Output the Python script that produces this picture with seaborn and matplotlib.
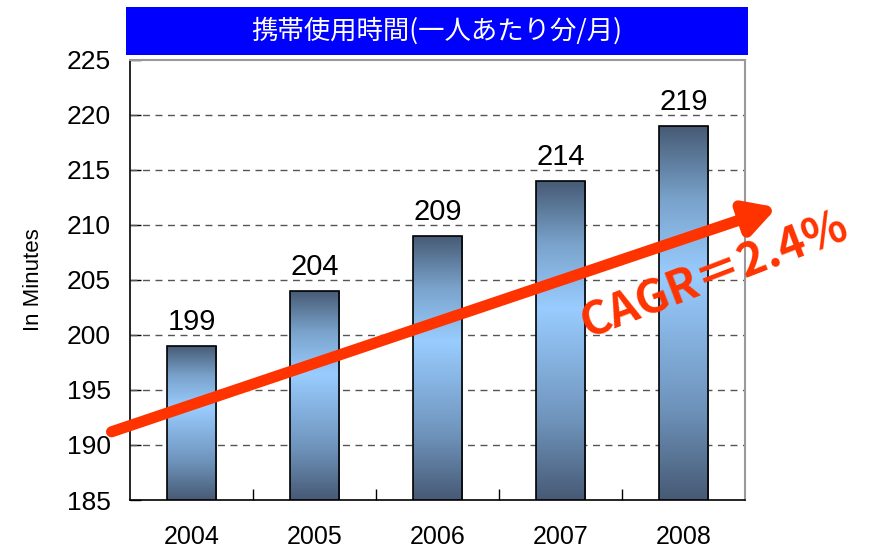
import numpy as np
import pandas as pd
import seaborn as sns
import matplotlib.pyplot as plt
from matplotlib.colors import LinearSegmentedColormap

# données
annees = ['2004', '2005', '2006', '2007', '2008']
minutes = [199, 204, 209, 214, 219]
titre = '携帯使用時間(一人あたり分/月)'
cagr = 'CAGR＝2.4%'

df = pd.DataFrame({'annee': annees, 'minutes': minutes})

sns.set_style('white', {'text.color': 'black', 'axes.labelcolor': 'black',
                        'xtick.color': 'black', 'ytick.color': 'black'})
plt.rcParams['font.family'] = ['Liberation Sans', 'Noto Sans CJK JP', 'DejaVu Sans']

fig = plt.figure(figsize=(8.82, 5.5), dpi=100)
ax = fig.add_axes([130 / 882, 50 / 550, 615 / 882, 440 / 550])

sns.barplot(data=df, x='annee', y='minutes', ax=ax, width=0.4,
            edgecolor='black', linewidth=1.2, zorder=3)

# dégradé dans chaque barre
cmap = LinearSegmentedColormap.from_list(
    'grad', [(0, '#475a75'), (0.25, '#6f94bc'), (0.6, '#99ccff'), (0.8, '#7aa3cc'), (1, '#465a74')])
grad = np.linspace(0, 1, 256).reshape(-1, 1)
for p in list(ax.patches):
    p.set_facecolor('none')
    x0, y0 = p.get_x(), p.get_y()
    w, h = p.get_width(), p.get_height()
    im = ax.imshow(grad, cmap=cmap, aspect='auto', extent=[x0, x0 + w, y0 + h, 185],
                   origin='upper', zorder=2)
    im.set_clip_path(p)
    ax.text(x0 + w / 2, y0 + h + 0.9, str(int(y0 + h)), ha='center', va='bottom',
            fontsize=21, color='black', zorder=4)

ax.set_xlim(-0.5, 4.5)
ax.set_ylim(185, 225)

# grille
ax.set_yticks(range(185, 226, 5))
for v in range(190, 225, 5):
    ax.axhline(v, color='#555555', linestyle=(0, (5, 4)), linewidth=1, zorder=1)
ax.set_xticks([i + 0.5 for i in range(4)], minor=True)
ax.tick_params(axis='y', direction='in', length=8, width=1, labelsize=19, pad=14, left=True)
ax.tick_params(axis='x', which='major', length=0, labelsize=18, pad=18)
ax.tick_params(axis='x', which='minor', direction='in', length=8, width=1, bottom=True)
ax.set_xlabel('')
ax.set_ylabel('In Minutes', fontsize=16, labelpad=16, color='black')

for s in ['left', 'bottom']:
    ax.spines[s].set_color('black')
    ax.spines[s].set_linewidth(1.2)
for s in ['top', 'right']:
    ax.spines[s].set_color('#999999')
    ax.spines[s].set_linewidth(1.5)

# bandeau titre
ax_t = fig.add_axes([126 / 882, 1 - 55 / 550, 622 / 882, 48 / 550])
ax_t.set_facecolor('#0000ff')
ax_t.set_xticks([])
ax_t.set_yticks([])
for s in ax_t.spines.values():
    s.set_visible(False)
ax_t.text(0.5, 0.5, titre, ha='center', va='center', color='white', fontsize=19,
          family=['Noto Sans CJK JP', 'DejaVu Sans'], transform=ax_t.transAxes)

# flèche CAGR
ax.annotate('', xy=(1.052, 0.665), xytext=(-0.03, 0.155), xycoords='axes fraction',
            textcoords='axes fraction',
            arrowprops=dict(arrowstyle='-|>,head_length=1.8,head_width=1.0', color='#ff3300',
                            lw=8, shrinkA=0, shrinkB=0), annotation_clip=False, zorder=5)
ax.text(585 / 615, 0.51, cagr, transform=ax.transAxes, rotation=21,
        ha='center', va='center', color='#ff3300', fontsize=33, fontweight='bold', zorder=5,
        family=['Noto Sans CJK JP', 'DejaVu Sans'])

fig.savefig('out.png', dpi=100)
